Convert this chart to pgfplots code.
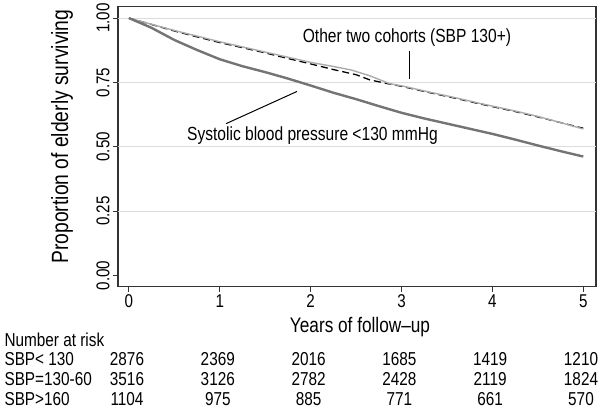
\documentclass[border=0pt]{standalone}
\usepackage{pgfplots}
\pgfplotsset{compat=1.18}
\usepackage{fontspec}
\setmainfont{Liberation Sans}[FakeStretch=0.82]
\definecolor{lowsbp}{HTML}{747474}
\definecolor{highsbp}{HTML}{ABABAB}
\definecolor{gridc}{HTML}{DCDCDC}
\definecolor{framec}{HTML}{333333}
\begin{document}
\begin{tikzpicture}
\begin{axis}[
    width=478pt, height=280pt,
    scale only axis,
    xmin=-0.12, xmax=5.14,
    ymin=-0.043, ymax=1.045,
    xtick={0,1,2,3,4,5},
    ytick={0,0.25,0.5,0.75,1},
    yticklabel style={rotate=90, anchor=south, /pgf/number format/fixed, /pgf/number format/precision=2, /pgf/number format/fixed zerofill},
    /pgf/number format/assume math mode=true,
    tick label style={font=\fontsize{18.5}{19}\selectfont},
    tick align=outside, tick pos=left,
    major tick length=5pt,
    every tick/.style={framec, line width=0.9pt},
    axis line style={framec, line width=1.2pt},
    extra y ticks={0.25,0.5,0.75,1},
    extra y tick labels={},
    extra y tick style={grid=major, major tick length=0pt, grid style={gridc, line width=0.8pt}},
    clip=false,
]
% SBP 130-160 (dashed)
\addplot[black, line width=1.3pt, dash pattern=on 7pt off 4pt] coordinates {
    (0,1) (0.25,0.975) (0.5,0.95) (0.75,0.927) (1,0.905) (1.25,0.885) (1.5,0.865) (1.75,0.843)
    (2,0.822) (2.25,0.80) (2.5,0.78) (2.65,0.76) (2.85,0.745) (3,0.735) (3.3,0.711)
    (3.6,0.688) (3.87,0.666) (4.25,0.637) (4.5,0.616) (4.75,0.594) (5,0.572)
};
% SBP > 160 (light gray)
\addplot[highsbp, line width=1.4pt] coordinates {
    (0,1) (0.25,0.976) (0.5,0.952) (0.75,0.93) (1,0.908) (1.25,0.888) (1.5,0.868) (1.75,0.848)
    (2,0.828) (2.25,0.812) (2.45,0.798) (2.65,0.776) (2.87,0.745) (3,0.737) (3.3,0.713)
    (3.6,0.69) (3.87,0.668) (4.25,0.639) (4.5,0.618) (4.75,0.594) (5,0.569)
};
% SBP < 130 (dark gray, thick)
\addplot[lowsbp, line width=2.4pt] coordinates {
    (0,1) (0.1,0.985) (0.25,0.962) (0.5,0.915) (0.75,0.876) (1,0.84) (1.25,0.813) (1.5,0.79)
    (1.75,0.765) (2,0.738) (2.25,0.71) (2.5,0.685) (2.75,0.658) (3,0.632) (3.25,0.61)
    (3.5,0.59) (3.75,0.57) (4,0.55) (4.25,0.528) (4.5,0.505) (4.75,0.483) (5,0.462)
};
% annotations
\node[font=\fontsize{19}{21}\selectfont] at (axis cs:3.06,0.925) {Other two cohorts (SBP 130+)};
\draw[black, line width=1pt] (axis cs:3.09,0.874) -- (axis cs:3.09,0.762);
\node[font=\fontsize{19}{21}\selectfont] at (axis cs:2.02,0.544) {Systolic blood pressure <130 mmHg};
\draw[black, line width=1pt] (axis cs:1.07,0.59) -- (axis cs:1.85,0.715);
\end{axis}
% everything below in page pixels (origin = bottom left of the 602 x 408 page)
\begin{scope}[shift={(-118pt,-124pt)}, x=1pt, y=1pt]
\path (0,0) rectangle (602,408);
\node[font=\fontsize{23.5}{25}\selectfont, rotate=90] at (62,274) {Proportion of elderly surviving};
\node[font=\fontsize{21}{23}\selectfont] at (360,83) {Years of follow–up};
\begin{scope}[every node/.style={font=\fontsize{18.7}{20}\selectfont}]
\node[anchor=west] at (1,71) {Number at risk};
\node[anchor=west] at (1,51) {SBP< 130};
\node[anchor=west] at (1,31) {SBP=130-60};
\node[anchor=west] at (1,11) {SBP>160};
\foreach \xx/\a/\b/\c in {0/2876/3516/1104, 1/2369/3126/975, 2/2016/2782/885, 3/1685/2428/771, 4/1419/2119/661, 5/1210/1824/570} {
    \node at (127+90.8*\xx,51) {\a};
    \node at (127+90.8*\xx,31) {\b};
    \node at (127+90.8*\xx,11) {\c};
}
\end{scope}
\end{scope}
\end{tikzpicture}
\end{document}
